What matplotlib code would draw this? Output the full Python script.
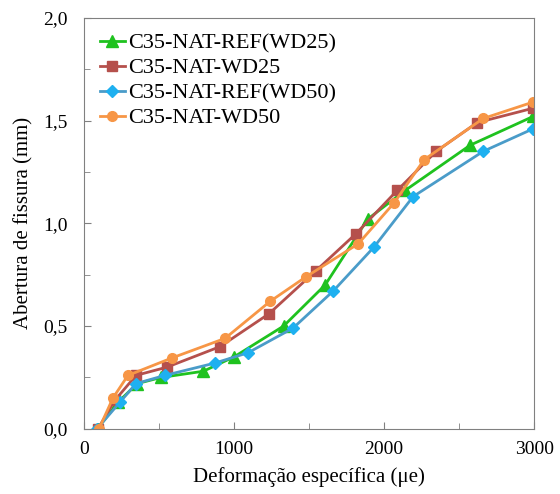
import matplotlib
matplotlib.use('Agg')
import matplotlib.pyplot as plt
from matplotlib.ticker import FuncFormatter, MultipleLocator

plt.rcParams['font.family'] = ['Liberation Serif', 'DejaVu Serif']

# dados
x_ref25 = [90, 227, 355, 515, 795, 1000, 1330, 1607, 1890, 2140, 2573, 2993]
y_ref25 = [0.0, 0.13, 0.22, 0.25, 0.28, 0.35, 0.50, 0.70, 1.02, 1.16, 1.38, 1.52]

x_wd25 = [93, 207, 347, 553, 907, 1233, 1547, 1813, 2087, 2347, 2620, 2993]
y_wd25 = [0.0, 0.14, 0.26, 0.30, 0.40, 0.56, 0.77, 0.95, 1.16, 1.35, 1.49, 1.56]

x_ref50 = [87, 240, 347, 540, 873, 1093, 1393, 1660, 1933, 2193, 2660, 2993]
y_ref50 = [0.0, 0.13, 0.22, 0.26, 0.32, 0.37, 0.49, 0.67, 0.885, 1.13, 1.35, 1.46]

x_wd50 = [100, 193, 293, 587, 940, 1240, 1480, 1827, 2067, 2267, 2660, 2993]
y_wd50 = [0.0, 0.15, 0.26, 0.345, 0.44, 0.62, 0.74, 0.90, 1.10, 1.31, 1.51, 1.59]

labels = ['C35-NAT-REF(WD25)', 'C35-NAT-WD25', 'C35-NAT-REF(WD50)', 'C35-NAT-WD50']

fig = plt.figure(figsize=(5.6, 4.94), dpi=100)
ax = fig.add_axes([0.15, 0.132, 0.804, 0.832])

ax.plot(x_ref25, y_ref25, color='#1FC21F', marker='^', markersize=8, lw=2, label=labels[0])
ax.plot(x_wd25, y_wd25, color='#B5504C', marker='s', markersize=7, lw=2, label=labels[1])
ax.plot(x_ref50, y_ref50, color='#4A9CC9', marker='D', markersize=6, lw=2,
        markerfacecolor='#1EB0F0', markeredgecolor='#1EB0F0', label=labels[2])
ax.plot(x_wd50, y_wd50, color='#F79646', marker='o', markersize=7, lw=2, label=labels[3])

ax.set_xlim(0, 3000)
ax.set_ylim(0, 2.0)
ax.xaxis.set_major_locator(MultipleLocator(1000))
ax.xaxis.set_minor_locator(MultipleLocator(500))
ax.yaxis.set_major_locator(MultipleLocator(0.5))
ax.yaxis.set_minor_locator(MultipleLocator(0.25))
ax.yaxis.set_major_formatter(FuncFormatter(lambda v, p: f'{v:.1f}'.replace('.', ',')))
ax.tick_params(which='both', direction='in', labelsize=14, color='#808080')
ax.tick_params(which='major', length=5)
ax.tick_params(which='minor', length=4)
ax.tick_params(axis='x', pad=9)
ax.tick_params(axis='y', pad=12)
for s in ax.spines.values():
    s.set_color('#808080')

ax.set_xlabel('Deformação específica (\u03bce)', fontsize=15, labelpad=6)
ax.set_ylabel('Abertura de fissura (mm)', fontsize=15, labelpad=7)

ax.legend(loc='upper left', frameon=False, fontsize=16, handlelength=1.15,
          handletextpad=0.15, labelspacing=0.2, borderaxespad=0.0,
          bbox_to_anchor=(0.015, 0.985))

fig.savefig('out.png', dpi=100)
